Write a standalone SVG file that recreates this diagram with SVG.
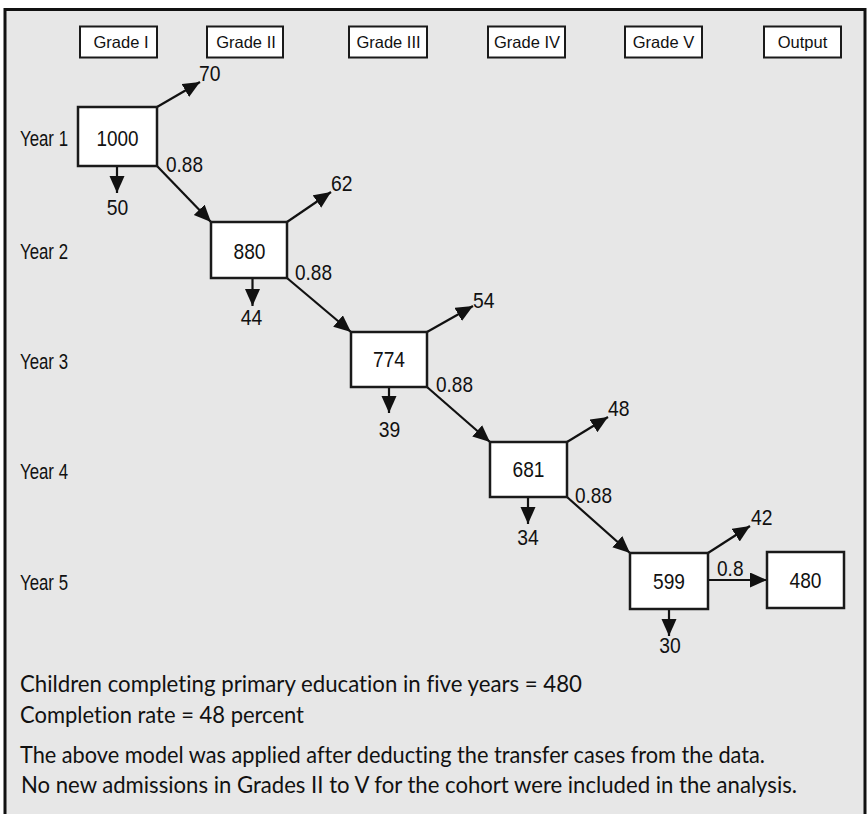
<svg xmlns="http://www.w3.org/2000/svg" width="867" height="814" viewBox="0 0 867 814">
  <defs>
    <marker id="arr" markerUnits="userSpaceOnUse" markerWidth="18" markerHeight="16" refX="17" refY="7.5" orient="auto">
      <path d="M0,0 L17,7.5 L0,15 z" fill="#111"/>
    </marker>
    <style>
      .box { fill: #fff; stroke: #1a1a1a; stroke-width: 2.5; }
      .hbox { fill: #fff; stroke: #1a1a1a; stroke-width: 2; }
      .hdr { font-family: "Liberation Sans", Arial, sans-serif; font-size: 16.5px; fill: #111; text-anchor: middle; }
      .t { font-family: "Liberation Sans", Arial, sans-serif; font-size: 22px; fill: #111; }
      .mid { text-anchor: middle; }
      .con { stroke: #111; stroke-width: 2.2; fill: none; marker-end: url(#arr); }
      .note { font-family: Lato, "Open Sans", sans-serif; font-size: 23px; fill: #111; font-variant-ligatures: none; }
    </style>
  </defs>

  <rect x="0" y="0" width="867" height="814" fill="#fff"/>
  <g id="frame">
    <rect x="5" y="9.5" width="860" height="804.5" fill="#e7e7e7"/>
    <path d="M5,814 V9.5 H865 V814" fill="none" stroke="#111" stroke-width="3"/>
  </g>

  <!-- Column headers -->
  <g id="hdr-grade1"><rect class="hbox" x="80" y="26.5" width="77" height="31"/><text class="hdr" x="121" y="48">Grade I</text></g>
  <g id="hdr-grade2"><rect class="hbox" x="207" y="26.5" width="76" height="31"/><text class="hdr" x="246" y="48">Grade II</text></g>
  <g id="hdr-grade3"><rect class="hbox" x="349" y="26.5" width="78" height="31"/><text class="hdr" x="388.5" y="48">Grade III</text></g>
  <g id="hdr-grade4"><rect class="hbox" x="488" y="26.5" width="77" height="31"/><text class="hdr" x="527" y="48">Grade IV</text></g>
  <g id="hdr-grade5"><rect class="hbox" x="625" y="26.5" width="77" height="31"/><text class="hdr" x="663.5" y="48">Grade V</text></g>
  <g id="hdr-output"><rect class="hbox" x="764" y="26.5" width="77" height="31"/><text class="hdr" x="802.5" y="48">Output</text></g>

  <!-- Row labels -->
  <g id="row-labels">
    <text class="t" x="20" y="146" textLength="48" lengthAdjust="spacingAndGlyphs">Year 1</text>
    <text class="t" x="20" y="259" textLength="48" lengthAdjust="spacingAndGlyphs">Year 2</text>
    <text class="t" x="20" y="369" textLength="48" lengthAdjust="spacingAndGlyphs">Year 3</text>
    <text class="t" x="20" y="479" textLength="48" lengthAdjust="spacingAndGlyphs">Year 4</text>
    <text class="t" x="20" y="590" textLength="48" lengthAdjust="spacingAndGlyphs">Year 5</text>
  </g>

  <!-- Connectors -->
  <g id="connectors">
    <!-- promotions -->
    <line class="con" x1="157" y1="166" x2="211" y2="222"/>
    <line class="con" x1="287" y1="278" x2="351" y2="332"/>
    <line class="con" x1="427" y1="387" x2="490" y2="442"/>
    <line class="con" x1="567" y1="497" x2="630" y2="553"/>
    <line class="con" x1="708" y1="580" x2="767" y2="580"/>
    <!-- dropouts -->
    <line class="con" x1="157" y1="107" x2="200" y2="82"/>
    <line class="con" x1="287" y1="222" x2="331" y2="192"/>
    <line class="con" x1="427" y1="332" x2="473" y2="306"/>
    <line class="con" x1="567" y1="442" x2="608" y2="417"/>
    <line class="con" x1="708" y1="553" x2="750" y2="526"/>
    <!-- repeaters -->
    <line class="con" x1="117" y1="166" x2="117" y2="193"/>
    <line class="con" x1="252.5" y1="278" x2="252.5" y2="306"/>
    <line class="con" x1="389" y1="387" x2="389" y2="413"/>
    <line class="con" x1="528" y1="497" x2="528" y2="524"/>
    <line class="con" x1="669" y1="609" x2="669" y2="636"/>
  </g>

  <!-- Connector labels -->
  <g id="connector-labels">
    <text class="t" x="166" y="172" textLength="37" lengthAdjust="spacingAndGlyphs">0.88</text>
    <text class="t" x="295" y="280" textLength="37" lengthAdjust="spacingAndGlyphs">0.88</text>
    <text class="t" x="436" y="392" textLength="37" lengthAdjust="spacingAndGlyphs">0.88</text>
    <text class="t" x="575" y="503" textLength="37" lengthAdjust="spacingAndGlyphs">0.88</text>
    <text class="t" x="717" y="576" textLength="26.5" lengthAdjust="spacingAndGlyphs">0.8</text>
    <text class="t" x="199" y="81" textLength="21.5" lengthAdjust="spacingAndGlyphs">70</text>
    <text class="t" x="331" y="191" textLength="21.5" lengthAdjust="spacingAndGlyphs">62</text>
    <text class="t" x="473" y="308" textLength="21.5" lengthAdjust="spacingAndGlyphs">54</text>
    <text class="t" x="608" y="416" textLength="21.5" lengthAdjust="spacingAndGlyphs">48</text>
    <text class="t" x="751" y="525" textLength="21.5" lengthAdjust="spacingAndGlyphs">42</text>
    <text class="t mid" x="117.5" y="215" textLength="21.5" lengthAdjust="spacingAndGlyphs">50</text>
    <text class="t mid" x="251.5" y="325" textLength="21.5" lengthAdjust="spacingAndGlyphs">44</text>
    <text class="t mid" x="389.5" y="437" textLength="21.5" lengthAdjust="spacingAndGlyphs">39</text>
    <text class="t mid" x="528" y="545" textLength="21.5" lengthAdjust="spacingAndGlyphs">34</text>
    <text class="t mid" x="670" y="653" textLength="21.5" lengthAdjust="spacingAndGlyphs">30</text>
  </g>

  <!-- Nodes -->
  <g id="node-1000"><rect class="box" x="78" y="107" width="79" height="59"/><text class="t mid" x="117.5" y="146" textLength="42" lengthAdjust="spacingAndGlyphs">1000</text></g>
  <g id="node-880"><rect class="box" x="211" y="222" width="76" height="56"/><text class="t mid" x="249.5" y="259" textLength="32" lengthAdjust="spacingAndGlyphs">880</text></g>
  <g id="node-774"><rect class="box" x="351" y="332" width="76" height="55"/><text class="t mid" x="389" y="367" textLength="32" lengthAdjust="spacingAndGlyphs">774</text></g>
  <g id="node-681"><rect class="box" x="490" y="442" width="77" height="55"/><text class="t mid" x="528.5" y="477" textLength="32" lengthAdjust="spacingAndGlyphs">681</text></g>
  <g id="node-599"><rect class="box" x="630" y="553" width="78" height="56"/><text class="t mid" x="669" y="589" textLength="32" lengthAdjust="spacingAndGlyphs">599</text></g>
  <g id="node-480"><rect class="box" x="767" y="552" width="77" height="56"/><text class="t mid" x="805.5" y="588" textLength="32" lengthAdjust="spacingAndGlyphs">480</text></g>

  <!-- Notes -->
  <g id="notes">
    <text class="note" x="20" y="692" textLength="562" lengthAdjust="spacingAndGlyphs">Children completing primary education in five years = 480</text>
    <text class="note" x="20" y="723" textLength="284" lengthAdjust="spacingAndGlyphs">Completion rate = 48 percent</text>
    <text class="note" x="20" y="763" textLength="745" lengthAdjust="spacingAndGlyphs">The above model was applied after deducting the transfer cases from the data.</text>
    <text class="note" x="21" y="793" textLength="776" lengthAdjust="spacingAndGlyphs">No new admissions in Grades II to V for the cohort were included in the analysis.</text>
  </g>
</svg>
